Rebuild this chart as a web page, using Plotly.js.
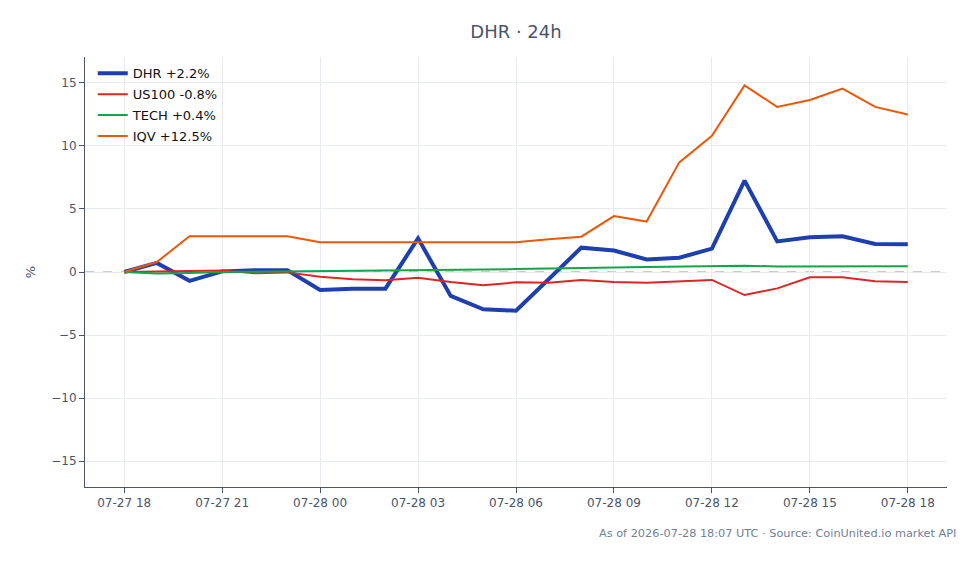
<!DOCTYPE html>
<html>
<head>
<meta charset="utf-8">
<script src="https://cdn.plot.ly/plotly-3.0.1.min.js"></script>
<style>
  html, body { margin: 0; padding: 0; background: #ffffff; }
  #chart { width: 979px; height: 564px; }
</style>
</head>
<body>
<div id="chart"></div>
<script>
// Hourly timestamps over the 24h window
const times = [
  "2026-07-27 18:00", "2026-07-27 19:00", "2026-07-27 20:00", "2026-07-27 21:00",
  "2026-07-27 22:00", "2026-07-27 23:00", "2026-07-28 00:00", "2026-07-28 01:00",
  "2026-07-28 02:00", "2026-07-28 03:00", "2026-07-28 04:00", "2026-07-28 05:00",
  "2026-07-28 06:00", "2026-07-28 07:00", "2026-07-28 08:00", "2026-07-28 09:00",
  "2026-07-28 10:00", "2026-07-28 11:00", "2026-07-28 12:00", "2026-07-28 13:00",
  "2026-07-28 14:00", "2026-07-28 15:00", "2026-07-28 16:00", "2026-07-28 17:00",
  "2026-07-28 18:00"
];

// Percent change from the window start
const dhr = [0, 0.72, -0.7, 0.05, 0.13, 0.13, -1.43, -1.32, -1.32, 2.67, -1.9, -2.96, -3.07,
             -0.6, 1.93, 1.7, 1.0, 1.13, 1.85, 7.25, 2.43, 2.75, 2.83, 2.22, 2.2];
const us100 = [0, 0.03, 0.1, 0.12, -0.1, -0.03, -0.37, -0.58, -0.66, -0.45, -0.79, -1.06, -0.82,
               -0.85, -0.63, -0.79, -0.85, -0.77, -0.63, -1.83, -1.3, -0.42, -0.42, -0.74, -0.8];
const tech = [0, -0.12, -0.08, 0.0, 0.02, 0.04, 0.06, 0.08, 0.1, 0.13, 0.16, 0.19, 0.23,
              0.27, 0.33, 0.36, 0.39, 0.42, 0.46, 0.5, 0.44, 0.45, 0.46, 0.45, 0.45];
const iqv = [0, 0.79, 2.83, 2.83, 2.83, 2.83, 2.36, 2.36, 2.36, 2.36, 2.36, 2.36, 2.36,
             2.6, 2.8, 4.44, 4.0, 8.7, 10.8, 14.8, 13.1, 13.65, 14.55, 13.1, 12.5];

const seriesNames = ["DHR +2.2%", "US100 -0.8%", "TECH +0.4%", "IQV +12.5%"];
const seriesColors = ["#1e40af", "#dc2626", "#16a34a", "#ea580c"];
const seriesWidths = [4, 2, 2, 2];
const seriesValues = [dhr, us100, tech, iqv];

// One legend group per series so the legend rows get a little extra spacing
const traces = seriesValues.map((vals, i) => ({
  type: "scatter",
  mode: "lines",
  x: times,
  y: vals,
  name: seriesNames[i],
  legendgroup: "g" + i,
  line: { color: seriesColors[i], width: seriesWidths[i] },
  hoverinfo: "skip"
}));

const axisColor = "#4a5568";
const gridColor = "#e8ebf0";

const layout = {
  width: 979,
  height: 564,
  margin: { l: 85, r: 32, t: 57, b: 77 },
  paper_bgcolor: "#ffffff",
  plot_bgcolor: "#ffffff",
  font: { family: "DejaVu Sans, sans-serif", size: 12, color: axisColor },
  title: {
    text: "DHR · 24h",
    x: 0.5,
    xref: "paper",
    xanchor: "center",
    y: 0.943,
    yref: "container",
    yanchor: "middle",
    font: { family: "DejaVu Sans, sans-serif", size: 18, color: axisColor }
  },
  showlegend: true,
  legend: {
    x: 0.009,
    y: 0.997,
    xanchor: "left",
    yanchor: "top",
    tracegroupgap: 1,
    bgcolor: "rgba(255,255,255,0)",
    font: { family: "DejaVu Sans, sans-serif", size: 13, color: "#111111" }
  },
  xaxis: {
    type: "date",
    range: ["2026-07-27 16:48", "2026-07-28 19:12"],
    dtick: 3 * 3600 * 1000,
    tick0: "2026-07-27 18:00",
    tickformat: "%m-%d %H",
    ticks: "outside",
    ticklen: 5,
    tickcolor: axisColor,
    showline: true,
    linecolor: axisColor,
    linewidth: 1,
    showgrid: true,
    gridcolor: gridColor,
    zeroline: false,
    tickfont: { size: 12, color: axisColor }
  },
  yaxis: {
    range: [-17.06, 17.06],
    dtick: 5,
    ticks: "outside",
    ticklen: 5,
    tickcolor: axisColor,
    showline: true,
    linecolor: axisColor,
    linewidth: 1,
    showgrid: true,
    gridcolor: gridColor,
    zeroline: false,
    tickfont: { size: 12, color: axisColor },
    title: { text: "%", font: { size: 13, color: axisColor }, standoff: 12 }
  },
  shapes: [{
    type: "line",
    xref: "paper",
    x0: 0, x1: 1,
    yref: "y",
    y0: 0, y1: 0,
    line: { color: "#8796b0", width: 1, dash: "dash" },
    layer: "below"
  }],
  annotations: [{
    text: "As of 2026-07-28 18:07 UTC · Source: CoinUnited.io market API",
    xref: "paper",
    yref: "paper",
    x: 1.0127,
    y: -0.107,
    xanchor: "right",
    yanchor: "middle",
    showarrow: false,
    font: { size: 11.3, color: "#718096" }
  }]
};

Plotly.newPlot("chart", traces, layout, { displayModeBar: false, staticPlot: true });
</script>
</body>
</html>
